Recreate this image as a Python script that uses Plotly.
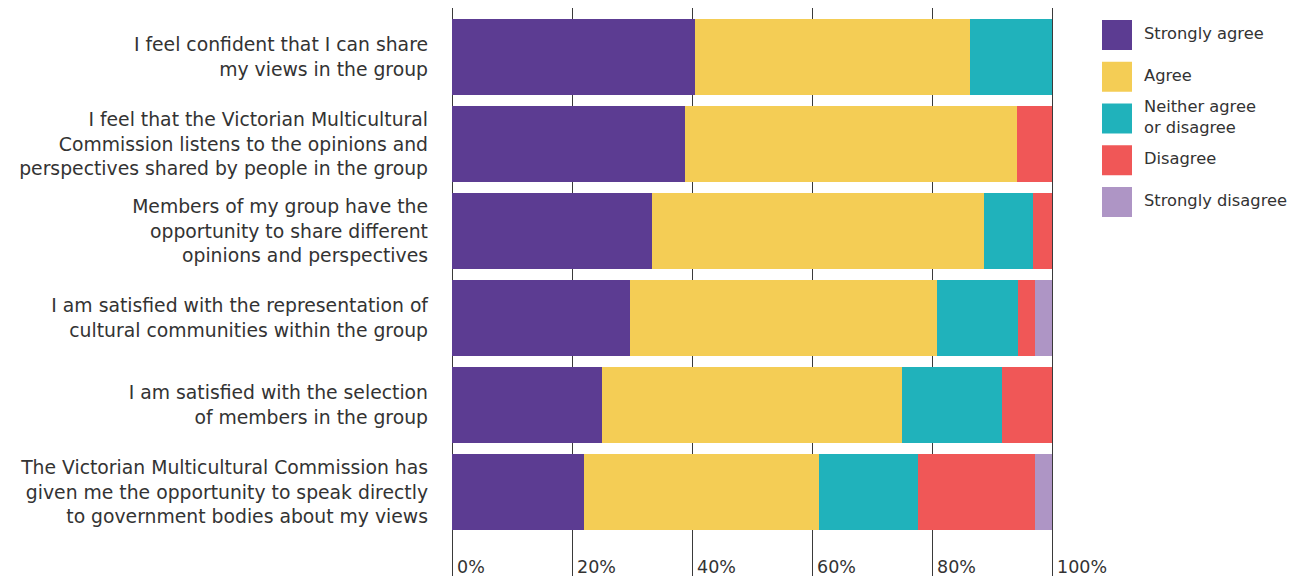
import plotly.graph_objects as go

statements = [
    "I feel confident that I can share<br>my views in the group",
    "I feel that the Victorian Multicultural<br>Commission listens to the opinions and<br>perspectives shared by people in the group",
    "Members of my group have the<br>opportunity to share different<br>opinions and perspectives",
    "I am satisfied with the representation of<br>cultural communities within the group",
    "I am satisfied with the selection<br>of members in the group",
    "The Victorian Multicultural Commission has<br>given me the opportunity to speak directly<br>to government bodies about my views",
]

responses = ["Strongly agree", "Agree", "Neither agree<br>or disagree", "Disagree", "Strongly disagree"]
colors = ["#5C3C92", "#F4CD55", "#20B2BB", "#F05757", "#AE95C5"]

strongly_agree = [40.5, 38.8, 33.3, 29.7, 25.0, 22.0]
agree = [45.8, 55.4, 55.4, 51.2, 50.0, 39.1]
neither = [13.7, 0.0, 8.2, 13.4, 16.6, 16.6]
disagree = [0.0, 5.8, 3.1, 2.9, 8.4, 19.5]
strongly_disagree = [0.0, 0.0, 0.0, 2.8, 0.0, 2.8]
series = [strongly_agree, agree, neither, disagree, strongly_disagree]

x_ticks = [0, 20, 40, 60, 80, 100]
x_tick_labels = ["0%", "20%", "40%", "60%", "80%", "100%"]

FONT = "DejaVu Sans"
TEXT = "#333333"
W, H = 1299, 579

fig = go.Figure()
for name, vals, col in zip(responses, series, colors):
    fig.add_trace(go.Bar(
        y=statements, x=vals, orientation="h", name=name,
        marker=dict(color=col, line=dict(width=0)),
        showlegend=False, hoverinfo="skip",
    ))

# custom legend (large square swatches + labels)
fig.add_trace(go.Scatter(
    x=[0] * len(responses), y=list(range(len(responses))),
    mode="markers",
    marker=dict(symbol="square", size=30, color=colors, line=dict(width=0)),
    xaxis="x2", yaxis="y2", showlegend=False, hoverinfo="skip", cliponaxis=False,
))
fig.add_trace(go.Scatter(
    x=[27] * len(responses), y=list(range(len(responses))),
    mode="text", text=responses, textposition="middle right",
    textfont=dict(family=FONT, size=16.3, color=TEXT),
    xaxis="x2", yaxis="y2", showlegend=False, hoverinfo="skip", cliponaxis=False,
))

pitch = 87.0
top_px, bot_px = 8, 576
first_center = 57
y_top = -(first_center - top_px) / pitch
y_bot = y_top + (bot_px - top_px) / pitch

leg_pitch = 41.75
leg_first = 35
ly_top = -leg_first / leg_pitch
ly_bot = ly_top + H / leg_pitch

# x axis: 6 px per percent, 0% at x=452; extra room on the right for the "100%" label
px_per = 6.0
x0_px = 452
x_lo, x_hi = -1.0, 110.0
x_dom = [(x0_px + x_lo * px_per) / W, (x0_px + x_hi * px_per) / W]

fig.update_layout(
    width=W, height=H,
    margin=dict(l=0, r=0, t=0, b=0),
    paper_bgcolor="white", plot_bgcolor="rgba(0,0,0,0)",
    barmode="stack", bargap=1 - 76 / 87,
    font=dict(family=FONT, color=TEXT),
    xaxis=dict(
        domain=x_dom, range=[x_lo, x_hi],
        tickvals=x_ticks, ticktext=x_tick_labels,
        showgrid=True, gridcolor="#3a3a3a", gridwidth=1.3,
        zeroline=False, showline=False,
        ticklabelposition="inside right",
        ticklabelshift=5, ticklabelstandoff=-6,
        tickfont=dict(family=FONT, size=17.5, color=TEXT),
        fixedrange=True,
    ),
    yaxis=dict(
        domain=[(H - bot_px) / H, (H - top_px) / H],
        categoryorder="array", categoryarray=statements,
        range=[y_bot, y_top],
        showgrid=False, zeroline=False, showline=False,
        tickfont=dict(family=FONT, size=18.8, color=TEXT),
        ticklabelstandoff=17,
        fixedrange=True,
    ),
    xaxis2=dict(
        domain=[1114 / W, 1.0], range=[-3, 182], anchor="y2",
        visible=False, fixedrange=True,
    ),
    yaxis2=dict(
        domain=[0, 1], range=[ly_bot, ly_top], anchor="x2",
        visible=False, fixedrange=True,
    ),
)

fig.write_html("out.html")
